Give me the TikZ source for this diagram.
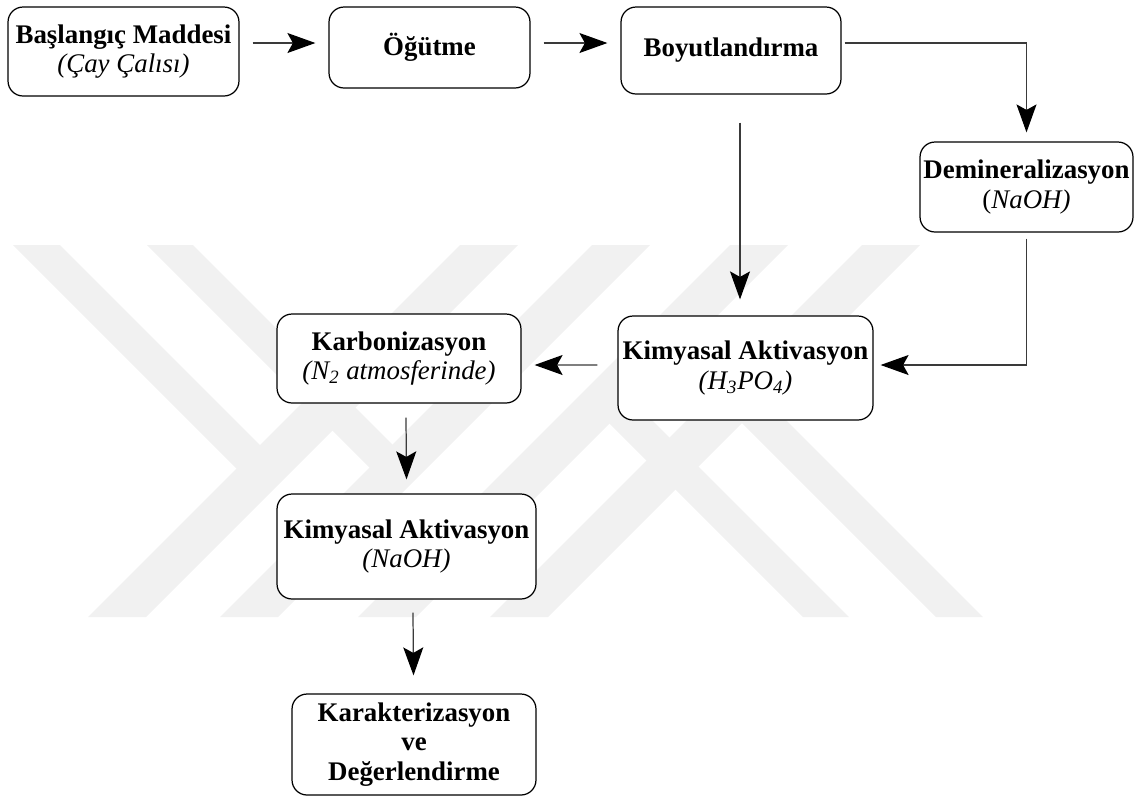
\documentclass[tikz,border=0pt]{standalone}
\usepackage{fontspec}
\setmainfont{LiberationSerif}[
  Extension=.ttf,
  UprightFont=*-Regular,
  BoldFont=*-Bold,
  ItalicFont=*-Italic,
  BoldItalicFont=*-BoldItalic
]
\usepackage{tikz}
\usetikzlibrary{
  arrows.meta,
  positioning,
  calc
}
\definecolor{wmGray}{HTML}{F1F1F1}
\definecolor{flowLine}{HTML}{3A3A3A}
\tikzset{
  procbox/.style={
    draw, rounded corners=0.3cm, fill=white, align=center,
    inner sep=0pt, line width=0.7pt, font=\fontsize{15.3}{17}\selectfont
  },
  flow/.style={-{Stealth[length=5.6mm, width=4mm, inset=1.1mm, color=black]}, line width=0.7pt, flowLine},
  wmband/.style={fill=wmGray, draw=none}
}

\begin{document}
\begin{tikzpicture}[x=0.02cm, y=-0.02cm]
  \useasboundingbox (0,0) rectangle (1142,796);

  % watermark in the background
  \begin{scope}
    \clip (0,245) rectangle (1142,617);
    \fill[wmband] (13,245) -- (60,245) -- (272.5,457.5) -- (249,481) -- cycle;
    \fill[wmband] (147,245) -- (193,245) -- (404,456) -- (381,479) -- cycle;
    \fill[wmband] (460,245) -- (518,245) -- (146,617) -- (88,617) -- cycle;
    \fill[wmband] (592,245) -- (650,245) -- (278,617) -- (220,617) -- cycle;
    \fill[wmband] (730,245) -- (788,245) -- (416,617) -- (358,617) -- cycle;
    \fill[wmband] (862,245) -- (920,245) -- (548,617) -- (490,617) -- cycle;
    \fill[wmband] (621,389) -- (598,412) -- (803,617) -- (849,617) -- cycle;
    \fill[wmband] (753,387) -- (729.5,410.5) -- (936,617) -- (983,617) -- cycle;
  \end{scope}

  % process steps
  \node[procbox, minimum width=4.62cm, minimum height=1.78cm] (bas) at (123.5,51.5) {\textbf{Başlangıç Maddesi}\\\textit{(Çay Çalısı)}};
  \node[procbox, minimum width=4.02cm, minimum height=1.62cm] (ogut) at (429.5,47.5) {\textbf{Öğütme}};
  \node[procbox, minimum width=4.40cm, minimum height=1.74cm] (boyut) at (731,50.5) {\textbf{Boyutlandırma}};
  \node[procbox, minimum width=4.26cm, minimum height=1.80cm] (demin) at (1026.5,187) {\textbf{Demineralizasyon}\\(\textit{NaOH)}};
  \node[procbox, minimum width=5.10cm, minimum height=2.08cm] (kimH) at (745.5,368) {\textbf{Kimyasal Aktivasyon}\\\textit{(H\textsubscript{3}PO\textsubscript{4})}};
  \node[procbox, minimum width=4.88cm, minimum height=1.78cm] (karb) at (399,358.5) {\textbf{Karbonizasyon}\\\textit{(N\textsubscript{2} atmosferinde)}};
  \node[procbox, minimum width=5.18cm, minimum height=2.10cm] (kimN) at (406.5,546.5) {\textbf{Kimyasal Aktivasyon}\\\textit{(NaOH)}};
  \node[procbox, minimum width=4.88cm, minimum height=2.02cm, font=\fontsize{15.3}{17}\selectfont\bfseries] (sonuc) at (414,744.5) {Karakterizasyon\\ve\\Değerlendirme};

  % connectors
  \draw[flow] ($(bas.east)+(13,-8.5)$) -- ($(ogut.west)+(-13,-4.5)$);
  \draw[flow] ($(ogut.east)+(13,-4.5)$) -- ($(boyut.west)+(-13,-7.5)$);
  \draw[flow] ($(boyut.east)+(3,-7.5)$) -| ($(demin.north)+(0,-9)$);
  \draw[flow] ($(boyut.south)+(9,28)$) -- ($(kimH.north)+(-5.5,-16)$);
  \draw[flow] ($(demin.south)+(0,6)$) |- ($(kimH.east)+(7,-3)$);
  \draw[flow] ($(kimH.west)+(-20,-3)$) -- ($(karb.east)+(13,6.5)$);
  \draw[flow] ($(karb.south)+(7,14)$) -- ($(kimN.north)+(0,-14)$);
  \draw[flow] ($(kimN.south)+(6.5,13)$) -- ($(sonuc.north)+(-0.5,-18)$);
\end{tikzpicture}
\end{document}
